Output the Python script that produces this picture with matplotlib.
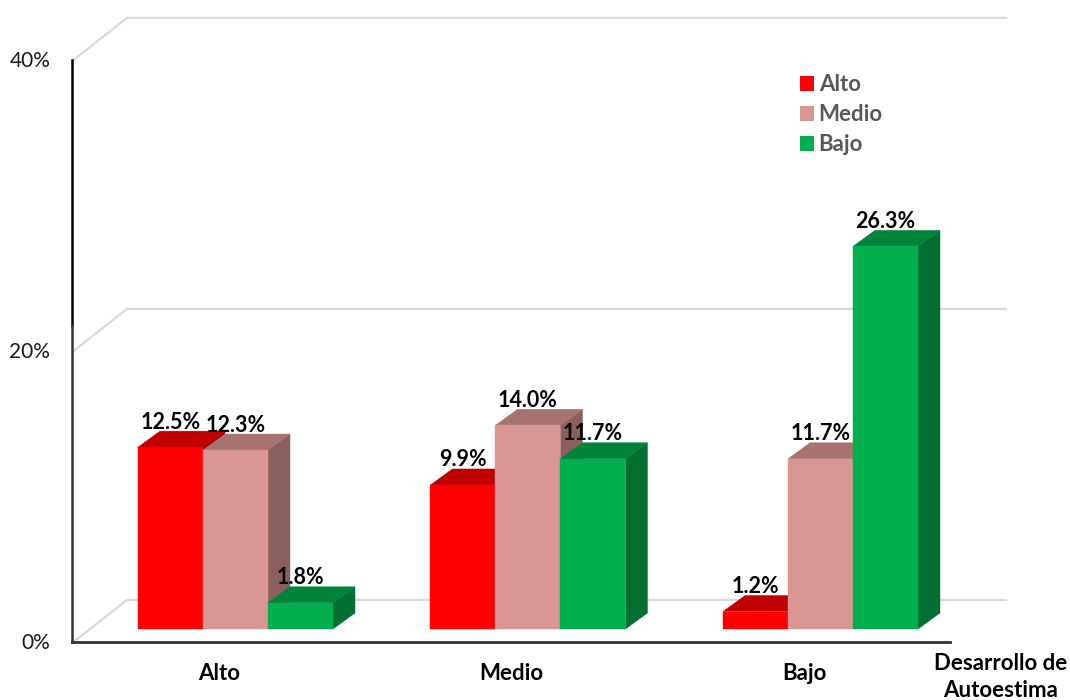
import matplotlib
matplotlib.use("Agg")
import matplotlib.pyplot as plt
from matplotlib.patches import Patch, Polygon

# Data
CATEGORIES = ["Alto", "Medio", "Bajo"]
SERIES = ["Alto", "Medio", "Bajo"]
ALTO = [12.5, 9.9, 1.2]
MEDIO = [12.3, 14.0, 11.7]
BAJO = [1.8, 11.7, 26.3]
Y_TICKS = [0, 20, 40]
X_TITLE = "Desarrollo de\nAutoestima"

# Face colours: front, top, side
COLORS = [
    ("#FF0000", "#C00000", "#A00000"),
    ("#D99694", "#A67370", "#8B5F5E"),
    ("#00B050", "#00843C", "#006F32"),
]

# Scale: one x unit is a bar width, y is in percent
PX_X = 65.0
PX_Y = 14.55
W, H = 1070, 700
X0_PX, Y0_PX = 138, 629
GROUP_STEP = 4.5
DEPTH_X = 22 / PX_X
DEPTH_Y = 16 / PX_Y
WALL_X = -1.015
BACK_X = -0.169
GRID_END = 13.354
AXIS_END = 12.49
WALL_Y = -0.9
BACK_Y = 2.0

plt.rcParams["font.family"] = ["Lato", "DejaVu Sans"]

fig = plt.figure(figsize=(W / 100, H / 100), dpi=100)
ax = fig.add_axes([0, 0, 1, 1])
ax.set_xlim(-X0_PX / PX_X, (W - X0_PX) / PX_X)
ax.set_ylim((Y0_PX - H) / PX_Y, Y0_PX / PX_Y)
ax.axis("off")

# Back wall gridlines with their slanted run-in
for t in Y_TICKS:
    ax.plot([WALL_X + 0.02, BACK_X, GRID_END], [t + WALL_Y, t + BACK_Y, t + BACK_Y],
            color="#D9D9D9", lw=1.6, zorder=1, solid_joinstyle="miter")

# Axis lines
ax.plot([WALL_X, WALL_X], [20.9, 40 + WALL_Y], color="#000000", lw=1.8, zorder=2)
ax.plot([WALL_X, WALL_X], [WALL_Y, 20.9], color="#333333", lw=1.8, zorder=2)
ax.plot([WALL_X, AXIS_END], [WALL_Y, WALL_Y], color="#333333", lw=2.0, zorder=2)


def draw_bar(x, v, cols):
    front, top, side = cols
    ax.add_patch(Polygon([(x + 1, 0), (x + 1 + DEPTH_X, DEPTH_Y), (x + 1 + DEPTH_X, v + DEPTH_Y), (x + 1, v)],
                         fc=side, ec=side, lw=0.3, zorder=3))
    ax.add_patch(Polygon([(x, v), (x + DEPTH_X, v + DEPTH_Y), (x + 1 + DEPTH_X, v + DEPTH_Y), (x + 1, v)],
                         fc=top, ec=top, lw=0.3, zorder=3))
    ax.add_patch(Polygon([(x, 0), (x + 1, 0), (x + 1, v), (x, v)], fc=front, ec=front, lw=0.3, zorder=3))


all_vals = [ALTO, MEDIO, BAJO]
for g, cat in enumerate(CATEGORIES):
    for s, vals in enumerate(all_vals):
        x = g * GROUP_STEP + s
        draw_bar(x, vals[g], COLORS[s])
        ax.text(x + 0.5, vals[g] + 1.72, f"{vals[g]:.1f}%", ha="center", va="center",
                fontsize=15.5, fontweight="bold", color="black", zorder=5)
    ax.text(g * GROUP_STEP + 1.25, -3.05, cat, ha="center", va="center",
            fontsize=16, fontweight="bold", color="black")

# Value axis labels
for t in Y_TICKS:
    ax.text(-1.35, t + WALL_Y - 0.06, f"{t}%", ha="right", va="center", fontsize=15, color="#1a1a1a")

ax.text(13.27, -3.3, X_TITLE, ha="center", va="center", fontsize=16, fontweight="bold",
        color="black", linespacing=1.4)

handles = [Patch(fc=COLORS[i][0], ec="none", label=SERIES[i]) for i in range(3)]
ax.legend(handles=handles, loc="upper left", bbox_to_anchor=(0.7475, 0.894), frameon=False,
          handlelength=0.63, handleheight=0.63, handletextpad=0.22, labelspacing=0.41,
          borderpad=0, borderaxespad=0, prop={"size": 16, "weight": "bold"}, labelcolor="#595959")

fig.savefig("out.png", dpi=100)
